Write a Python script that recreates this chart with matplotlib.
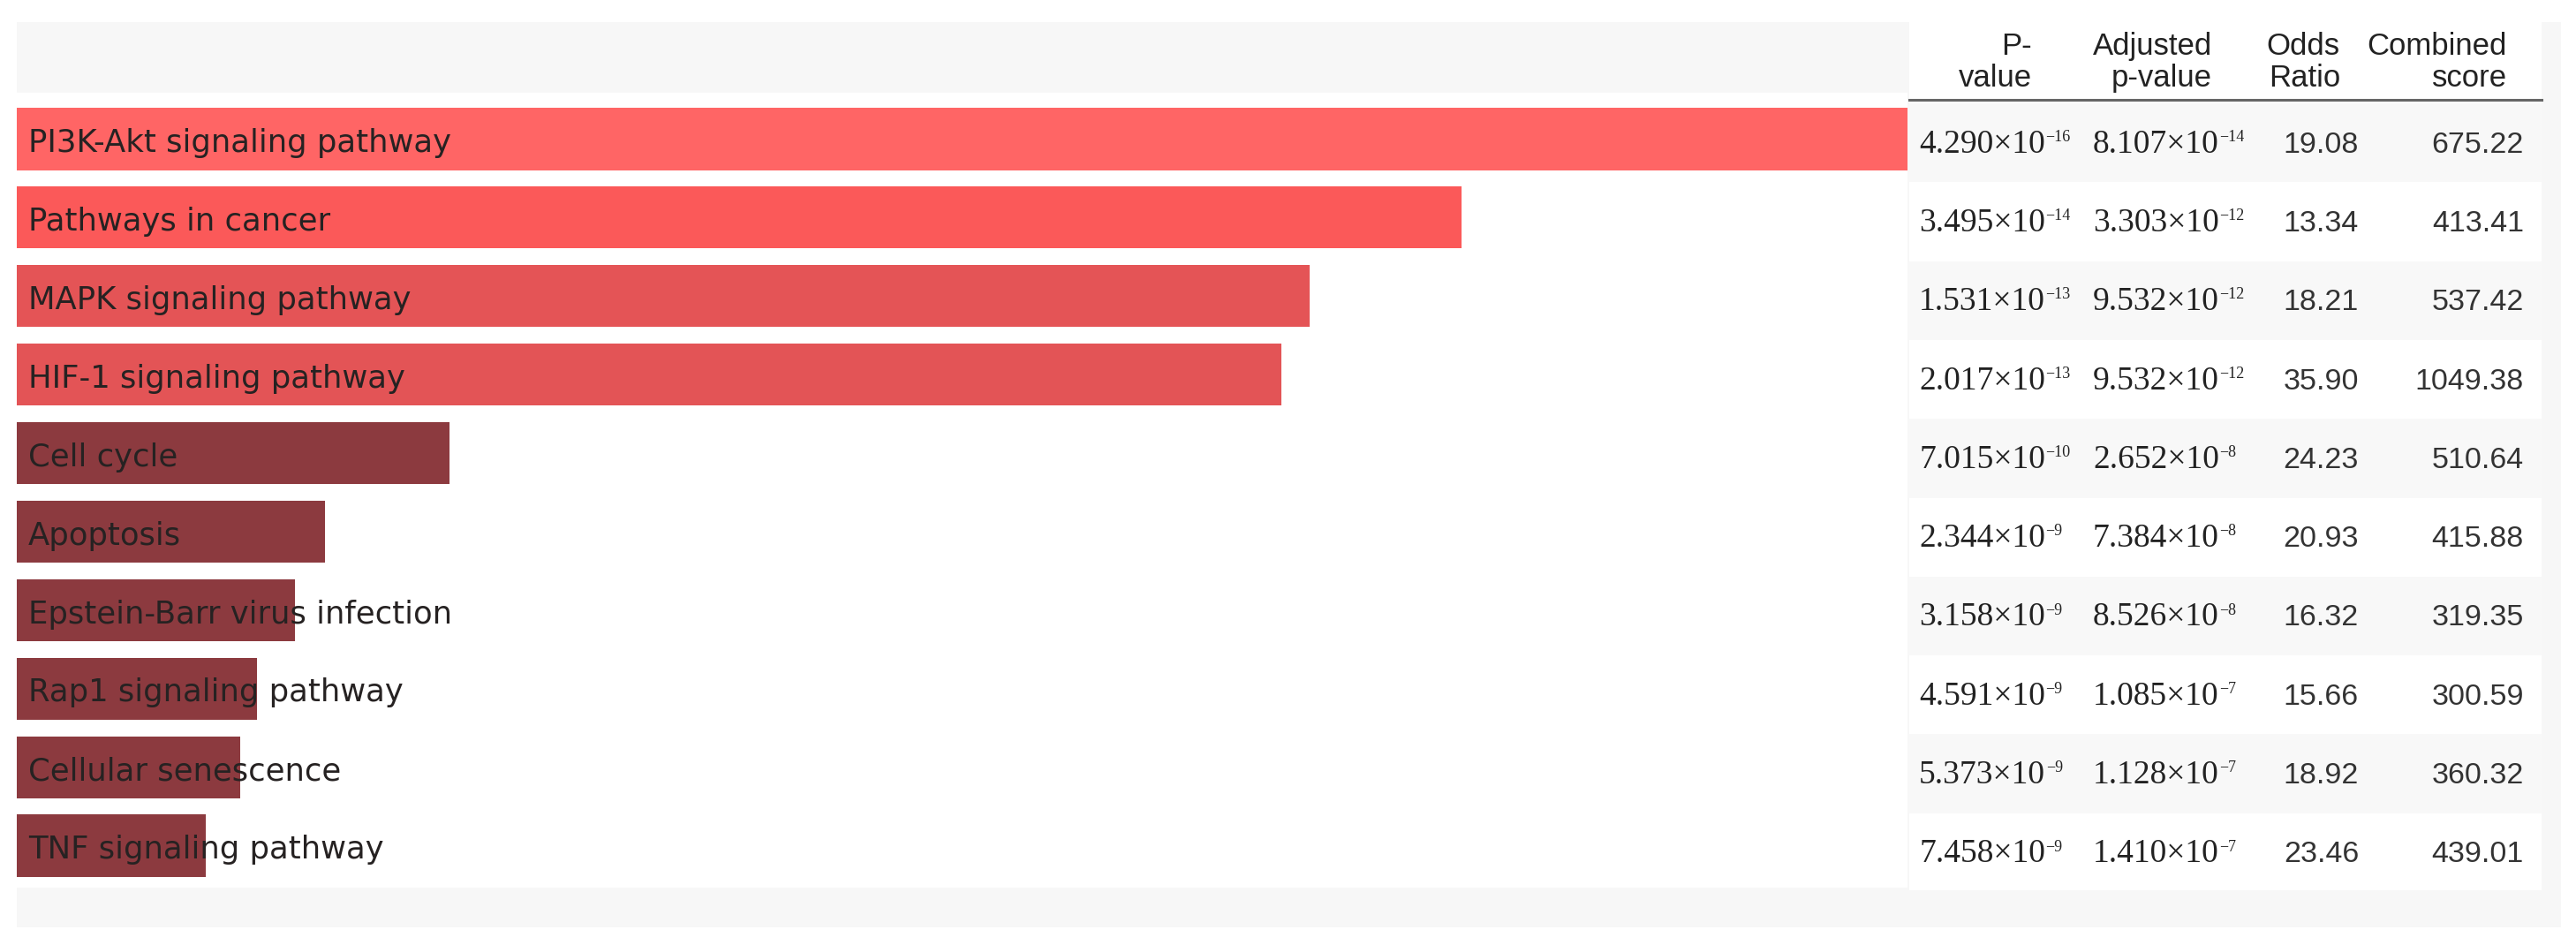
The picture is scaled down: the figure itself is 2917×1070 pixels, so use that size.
import numpy as np
import matplotlib
matplotlib.use('Agg')
from matplotlib import pyplot as plt
from matplotlib.patches import Rectangle

# ---- data ----
terms = ['PI3K-Akt signaling pathway', 'Pathways in cancer', 'MAPK signaling pathway',
         'HIF-1 signaling pathway', 'Cell cycle', 'Apoptosis',
         'Epstein-Barr virus infection', 'Rap1 signaling pathway',
         'Cellular senescence', 'TNF signaling pathway']
p_mant = ['4.290', '3.495', '1.531', '2.017', '7.015', '2.344', '3.158', '4.591', '5.373', '7.458']
p_exp = [-16, -14, -13, -13, -10, -9, -9, -9, -9, -9]
adj_mant = ['8.107', '3.303', '9.532', '9.532', '2.652', '7.384', '8.526', '1.085', '1.128', '1.410']
adj_exp = [-14, -12, -12, -12, -8, -8, -8, -7, -7, -7]
odds = [19.08, 13.34, 18.21, 35.90, 24.23, 20.93, 16.32, 15.66, 18.92, 23.46]
combined = [675.22, 413.41, 537.42, 1049.38, 510.64, 415.88, 319.35, 300.59, 360.32, 439.01]
# bar length relative to the longest bar
bar_len = [1.000, 0.764, 0.684, 0.669, 0.229, 0.163, 0.147, 0.127, 0.118, 0.100]
bar_colors = ['#ff6565', '#fb5959', '#e45456', '#e35456', '#8c3a3f',
              '#8c3a3f', '#8c3a3f', '#8c3a3f', '#8c3a3f', '#8c3a3f']
headers = [('P-', 'value'), ('Adjusted', 'p-value'), ('Odds', 'Ratio'), ('Combined', 'score')]

n = len(terms)
W, H = 2917, 1070
fig = plt.figure(figsize=(W / 100, H / 100), dpi=100)
fig.patch.set_facecolor('white')


def px_axes(x0, y0, x1, y1):
    return fig.add_axes([x0 / W, 1 - y1 / H, (x1 - x0) / W, (y1 - y0) / H])


# background panels (pixel coordinates)
bg = px_axes(0, 0, W, H)
bg.set_xlim(0, W)
bg.set_ylim(H, 0)
bg.axis('off')
bg.add_patch(Rectangle((19, 25), 2881, 1025, color='#f7f7f7', lw=0))
bg.add_patch(Rectangle((19, 105), 2141, 900, color='white', lw=0))
bg.add_patch(Rectangle((2162, 25), 716, 983, color='white', lw=0))

tab_top, pitch = 117, 89.3
for i in range(n):
    if i % 2 == 0:
        bg.add_patch(Rectangle((2162, tab_top + i * pitch), 716, pitch, color='#f8f8f8', lw=0))

# bars
ax = px_axes(19, 113, 2160, 1002)
ax.barh(np.arange(n), bar_len, height=0.79, color=bar_colors, lw=0)
ax.set_xlim(0, 1)
ax.set_ylim(n - 0.5, -0.5)
ax.axis('off')
ax.patch.set_alpha(0)
for i, t in enumerate(terms):
    ax.text(0.006, i + 0.165, t, fontsize=25.5, family='DejaVu Sans',
            color='#262222', va='baseline', ha='left')

# table header
sans = 'Liberation Sans'
head_right = [2301, 2505, 2650, 2839]
for (l1, l2), xr in zip(headers, head_right):
    bg.text(xr, 62, l1, fontsize=25, family=sans, color='#222222', ha='right', va='baseline')
    bg.text(xr, 98, l2, fontsize=25, family=sans, color='#222222', ha='right', va='baseline')
bg.plot([2162, 2878], [113, 113], color='#666666', lw=2.2)


def sci(x, y, mant, ex):
    t = bg.text(x, y, mant + '\u00d710', fontsize=27, family='Liberation Serif',
                color='#222222', ha='left', va='baseline')
    bg.annotate('\u2212%d' % abs(ex), xy=(1, 0), xycoords=t, xytext=(0.5, 15),
                textcoords='offset points', fontsize=13, family='Liberation Serif',
                color='#222222', ha='left', va='baseline')


# table rows
for i in range(n):
    yb = tab_top + pitch * (i + 0.5) + 11
    sci(2173, yb, p_mant[i], p_exp[i])
    sci(2370, yb, adj_mant[i], adj_exp[i])
    bg.text(2671, yb, '%.2f' % odds[i], fontsize=24.5, family=sans,
            color='#333333', ha='right', va='baseline')
    bg.text(2858, yb, '%.2f' % combined[i], fontsize=24.5, family=sans,
            color='#333333', ha='right', va='baseline')

fig.savefig('out.png', dpi=100, facecolor='white')
